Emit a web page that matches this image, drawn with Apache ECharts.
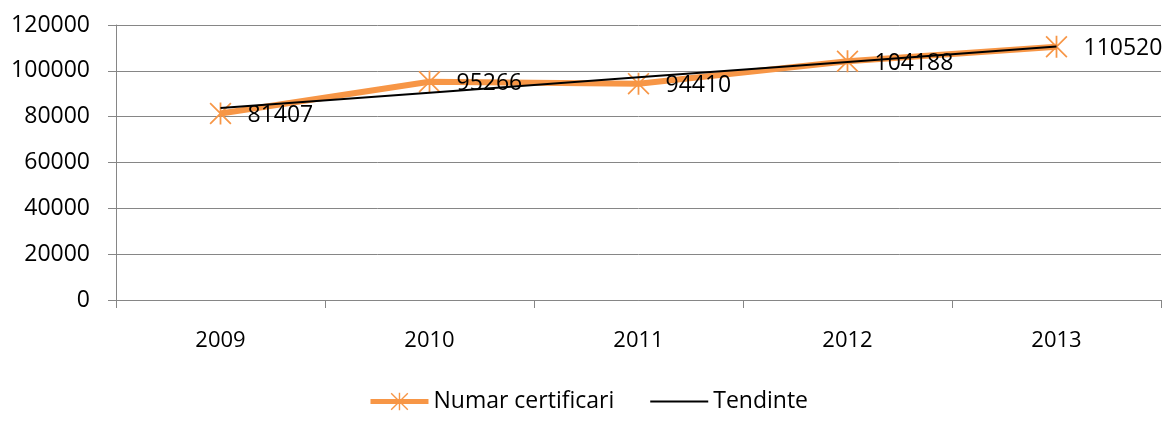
<!DOCTYPE html>
<html>
<head>
<meta charset="utf-8">
<script src="https://cdn.jsdelivr.net/npm/echarts@6/dist/echarts.min.js"></script>
<style>
html,body{margin:0;padding:0;background:#fff;}
#chart{width:1176px;height:421px;}
</style>
</head>
<body>
<div id="chart"></div>
<script>
var categories = ['2009', '2010', '2011', '2012', '2013'];
var certificari = [81407, 95266, 94410, 104188, 110520];
var tendinte = [83729, 90444, 97158, 103873, 110588];
var yTicks = [0, 20000, 40000, 60000, 80000, 100000, 120000];

var FONT = '"Open Sans", sans-serif';
var star = 'path://M9.2 0 L10.8 0 L10.8 20 L9.2 20 Z M1.1 0 L20 18.9 L18.9 20 L0 1.1 Z M18.9 0 L20 1.1 L1.1 20 L0 18.9 Z';

var chart = echarts.init(document.getElementById('chart'));
chart.setOption({
  animation: false,
  backgroundColor: '#fff',
  textStyle: { fontFamily: FONT },
  grid: { left: 116, right: 15, top: 25, bottom: 121, containLabel: false },
  legend: {
    top: 385,
    left: 'center',
    itemWidth: 58,
    itemHeight: 22,
    itemGap: 36,
    textStyle: { fontFamily: FONT, fontSize: 23, color: '#000' },
    data: [
      { name: 'Numar certificari', lineStyle: { width: 5 } },
      { name: 'Tendinte', icon: 'path://M0 10 L52 10 L52 12 L0 12 Z' }
    ]
  },
  xAxis: {
    type: 'category',
    data: categories,
    boundaryGap: true,
    axisLine: { lineStyle: { color: '#868686', width: 1 } },
    axisTick: { show: true, length: 8, lineStyle: { color: '#868686' } },
    axisLabel: { color: '#000', fontSize: 22, margin: 30, fontFamily: FONT }
  },
  yAxis: {
    type: 'value',
    min: yTicks[0],
    max: yTicks[yTicks.length - 1],
    interval: yTicks[1] - yTicks[0],
    axisLine: { show: true, lineStyle: { color: '#868686', width: 1 } },
    axisTick: { show: true, length: 8, lineStyle: { color: '#868686' } },
    axisLabel: {
      color: '#000', fontSize: 23, margin: 26, fontFamily: FONT,
      formatter: function (v) { return String(v); }
    },
    splitLine: { show: true, lineStyle: { color: '#868686', width: 1 } }
  },
  series: [
    {
      name: 'Numar certificari',
      type: 'line',
      data: certificari,
      symbol: star,
      symbolSize: 22,
      showAllSymbol: true,
      itemStyle: { color: '#F79646' },
      lineStyle: { color: '#F79646', width: 6 },
      label: {
        show: true,
        position: 'right',
        distance: 16,
        offset: [0, 2],
        color: '#000',
        fontSize: 23,
        fontFamily: FONT
      },
      z: 2
    },
    {
      name: 'Tendinte',
      type: 'line',
      data: tendinte,
      symbol: 'none',
      itemStyle: { color: '#000' },
      lineStyle: { color: '#000', width: 2 },
      z: 3
    }
  ]
});
</script>
</body>
</html>
